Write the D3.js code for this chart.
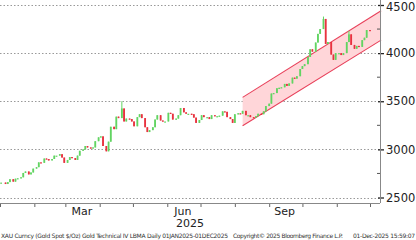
<!DOCTYPE html>
<html>
<head>
<meta charset="utf-8">
<script src="https://cdn.jsdelivr.net/npm/d3@7"></script>
<style>
  body { margin: 0; background: #fff; }
  svg { display: block; font-family: "DejaVu Sans", sans-serif; }
  .grid line { stroke: #999; stroke-dasharray: 1.5 2; }
</style>
</head>
<body>
<svg id="chart" width="416" height="240"></svg>
<script>
var firstDay = "2025-01-02";
var lastDay = "2025-12-01";
var firstMonday = "2025-01-06";
var closes = [
    2655,
    2640, 2660, 2690,  2665, 2695, 2700,  2710, 2755, 2770,  2740, 2760, 2800,
    2815, 2865, 2860,  2905, 2900, 2885,  2900, 2935, 2935,  2950, 2915, 2860,
    2890, 2920, 2910,  2890, 2935, 2985,  3000, 3035, 3020,  3010, 3020, 3085,
    3125, 3135, 3035,  2980, 3080, 3235,  3210, 3340, 3325,  3425, 3290, 3320,
    3315, 3290, 3240,  3335, 3365, 3325,  3230, 3180, 3200,  3230, 3310, 3355,
    3300, 3290, 3290,  3380, 3370, 3310,  3320, 3355, 3430,  3385, 3370, 3370,
    3365, 3330, 3275,  3305, 3355, 3335,  3335, 3315, 3355,  3345, 3345, 3350,
    3395, 3390, 3335,  3315, 3275, 3365,  3375, 3370, 3400,  3355, 3355, 3335,
    3330, 3345, 3370,  3365, 3395, 3450,  3475, 3580, 3585,  3635, 3640, 3645,
    3680, 3660, 3685,  3745, 3735, 3760,  3835, 3865, 3885,  3960, 4040, 4015,
    4110, 4200, 4250,  4355, 4095, 4115,  3985, 3930, 4000,  4000, 3980, 4000,
    4115, 4195, 4085,  4045, 4075, 4065,  4135, 4160, 4240,
    4235
];
// notable wicks
var wickHighs = { "2025-04-21": 3500, "2025-10-20": 4380, "2025-11-12": 4230 };

// trend channel
var channelUpper = [["2025-08-08", 3540], ["2025-12-11", 4440]];
var channelLower = [["2025-08-08", 3245], ["2025-12-11", 4135]];

var yTicks = [2500, 3000, 3500, 4000, 4500];
var yMinor = [2750, 3250, 3750, 4250];
var monthLabels = [["2025-03-16", "Mar"], ["2025-06-15", "Jun"], ["2025-09-15", "Sep"]];
var yearLabel = "2025";
var footLeft = "XAU Curncy (Gold Spot  $/Oz) Gold Technical IV LBMA Daily 01JAN2025-01DEC2025";
var footMid = "Copyright\u00a9 2025 Bloomberg Finance L.P.";
var footRight = "01-Dec-2025 15:59:07";

var parse = d3.timeParse("%Y-%m-%d");
var dates = [parse(firstDay)];
d3.timeMonday.range(parse(firstMonday), parse(lastDay)).forEach(function (m) {
    dates.push(m, d3.timeDay.offset(m, 2), d3.timeDay.offset(m, 4));
});
dates.push(parse(lastDay));

var data = closes.map(function (c, i) {
    var o = i > 0 ? closes[i - 1] : c;
    var key = d3.timeFormat("%Y-%m-%d")(dates[i]);
    return { date: dates[i], open: o, close: c, high: wickHighs[key] || Math.max(o, c) };
});

var plotRight = 380, plotBottom = 203;
var svg = d3.select("#chart");

var x = d3.scaleTime()
    .domain([new Date(2025, 0, 1), new Date(2025, 11, 1)])
    .range([0, 370]);
var y = d3.scaleLinear()
    .domain([2500, 4500])
    .range([197.5, 5]);

// grid
svg.append("g").attr("class", "grid")
    .selectAll("line").data(yTicks).enter().append("line")
    .attr("x1", 0).attr("x2", plotRight)
    .attr("y1", function (d) { return Math.round(y(d)) + 0.5; })
    .attr("y2", function (d) { return Math.round(y(d)) + 0.5; });

// channel
var pt = function (d) { return [x(parse(d[0])), y(d[1])]; };
var poly = channelUpper.map(pt).concat(channelLower.map(pt).reverse());
svg.append("path")
    .attr("d", "M" + poly.join("L") + "Z")
    .attr("fill", "#ffd6d9");
[channelUpper, channelLower].forEach(function (l) {
    svg.append("path")
        .attr("d", d3.line()(l.map(pt)))
        .attr("stroke", "#e8405a").attr("stroke-width", 1.1).attr("fill", "none");
});

// candles
var up = "#62d462", down = "#e8323f";
var candles = svg.append("g").selectAll("g").data(data).enter().append("g");
candles.append("line")
    .attr("x1", function (d) { return x(d.date); })
    .attr("x2", function (d) { return x(d.date); })
    .attr("y1", function (d) { return y(d.high); })
    .attr("y2", function (d) { return y(Math.min(d.open, d.close)); })
    .attr("stroke", function (d) { return d.close >= d.open ? up : down; })
    .attr("stroke-width", 1);
candles.append("rect")
    .attr("x", function (d) { return x(d.date) - 0.9; })
    .attr("width", 1.8)
    .attr("y", function (d) { return y(Math.max(d.open, d.close)); })
    .attr("height", function (d) { return Math.max(1.2, Math.abs(y(d.open) - y(d.close))); })
    .attr("fill", function (d) { return d.close >= d.open ? up : down; });

// right axis
var yAxis = d3.axisRight(y).tickValues(yTicks).tickSize(4).tickPadding(2).tickFormat(d3.format("d"));
var gy = svg.append("g").attr("transform", "translate(" + plotRight + ",0)").call(yAxis);
gy.select(".domain").remove();
gy.selectAll(".tick line").attr("x1", -2).attr("stroke", "#222").attr("stroke-width", 1.3);
gy.selectAll(".tick text").attr("font-size", 11.5).attr("fill", "#222").attr("font-family", "DejaVu Sans")
    .attr("dy", function (d) { return d === 4500 ? "0.5em" : "0.32em"; });
gy.append("g").selectAll("line").data(yMinor).enter().append("line")
    .attr("x1", -3).attr("x2", 0)
    .attr("y1", function (d) { return y(d); }).attr("y2", function (d) { return y(d); })
    .attr("stroke", "#555");
svg.append("line").attr("x1", plotRight + 0.5).attr("x2", plotRight + 0.5)
    .attr("y1", 0).attr("y2", plotBottom).attr("stroke", "#888");

// bottom axis
var xAxis = d3.axisBottom(x).ticks(d3.timeMonth.every(1)).tickSize(4).tickFormat("");
var gx = svg.append("g").attr("transform", "translate(0," + plotBottom + ")").call(xAxis);
gx.select(".domain").remove();
gx.selectAll(".tick line").attr("stroke", "#666");
svg.append("line").attr("x1", 0).attr("x2", plotRight)
    .attr("y1", plotBottom + 0.5).attr("y2", plotBottom + 0.5).attr("stroke", "#888");
svg.selectAll(".mlab").data(monthLabels).enter().append("text")
    .attr("x", function (d) { return x(parse(d[0])); })
    .attr("y", plotBottom + 12)
    .attr("text-anchor", "middle").attr("font-size", 11).attr("fill", "#222")
    .text(function (d) { return d[1]; });
svg.append("text").attr("x", plotRight / 2).attr("y", plotBottom + 24)
    .attr("text-anchor", "middle").attr("font-size", 11).attr("fill", "#222")
    .text(yearLabel);

// footer
var foot = svg.append("g").attr("font-size", 6).attr("fill", "#333");
foot.append("text").attr("x", 1).attr("y", 238).attr("textLength", 227).text(footLeft);
foot.append("text").attr("x", 233).attr("y", 238).attr("textLength", 110).text(footMid);
foot.append("text").attr("x", 353).attr("y", 238).attr("textLength", 62).text(footRight);
</script>
</body>
</html>
